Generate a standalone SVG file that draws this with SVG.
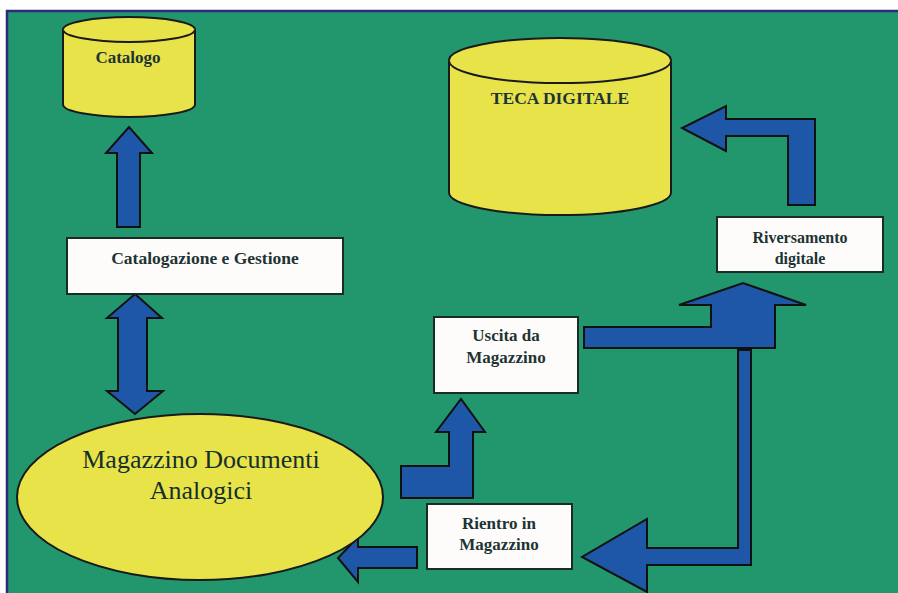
<svg xmlns="http://www.w3.org/2000/svg" width="898" height="593" viewBox="0 0 898 593">
<style>
.bg{fill:#22976e;}
.cyl{fill:#e9e34a;stroke:#1a1a1a;stroke-width:2;}
.box{fill:#fefcfa;stroke:#1c2a28;stroke-width:2;}
.arr{fill:#1f57a8;stroke:#111;stroke-width:2;stroke-linejoin:miter;}
.t{font-family:"Liberation Serif","Times New Roman","DejaVu Serif",serif;font-weight:bold;fill:#1d3434;text-anchor:middle;}
.tb{font-family:"Liberation Serif","Times New Roman","DejaVu Serif",serif;fill:#15302a;text-anchor:middle;}
</style>
<rect x="0" y="0" width="898" height="593" fill="#ffffff"/>
<rect class="bg" x="7" y="11" width="891" height="582"/>
<path d="M7,593 V11 H898" fill="none" stroke="#2c2b7c" stroke-width="2.5"/>

<g id="connectors">
  <polygon class="arr" points="117,227 117,153 106,153 129,127 152,153 140,153 140,227"/>
  <polygon class="arr" points="135,294 162,318 147,318 147,391 163,391 135,414 107,391 118,391 118,318 107,318"/>
  <polygon class="arr" points="815,205 788,205 788,136 726,136 726,151 682,128 726,106 726,119 815,119"/>
  <polygon class="arr" points="584,327 711,327 711,305 679,305 743,283 806,305 775,305 775,348 584,348"/>
  <polygon class="arr" points="738,350 751,350 751,565 647,565 647,592 582,557 647,519 647,548 738,548"/>
  <polygon class="arr" points="401,466 449,466 449,432 436,432 461,399 485,432 473,432 473,498 401,498"/>
  <polygon class="arr" points="417,547 417,568 358,568 358,582 338,558 358,537 358,547"/>
</g>

<g id="catalogo">
  <path class="cyl" d="M63,29.5 V104.5 A66,12.5 0 0 0 195,104.5 V29.5 A66,12.5 0 0 0 63,29.5 Z"/>
  <path class="cyl" d="M63,29.5 A66,12.5 0 0 0 195,29.5" fill="none"/>
  <text class="t" x="128" y="63" font-size="17">Catalogo</text>
</g>

<g id="teca">
  <path class="cyl" d="M449,60.5 V192.5 A111,22.5 0 0 0 671,192.5 V60.5 A111,22.5 0 0 0 449,60.5 Z"/>
  <path class="cyl" d="M449,60.5 A111,22.5 0 0 0 671,60.5" fill="none"/>
  <text class="t" x="560" y="104" font-size="17.5">TECA DIGITALE</text>
</g>

<g id="catalogazione">
  <rect class="box" x="67" y="238" width="276" height="56"/>
  <text class="t" x="205" y="264" font-size="17.5">Catalogazione e Gestione</text>
</g>

<g id="magazzino">
  <ellipse class="cyl" cx="200" cy="497" rx="183" ry="83"/>
  <text class="tb" x="201" y="468" font-size="26">Magazzino Documenti</text>
  <text class="tb" x="201" y="499" font-size="26">Analogici</text>
</g>

<g id="riversamento">
  <rect class="box" x="717" y="217" width="166" height="55"/>
  <text class="t" x="800" y="243" font-size="16">Riversamento</text>
  <text class="t" x="800" y="264" font-size="16">digitale</text>
</g>

<g id="uscita">
  <rect class="box" x="434" y="317" width="144" height="76"/>
  <text class="t" x="506" y="341" font-size="17">Uscita da</text>
  <text class="t" x="506" y="363" font-size="17">Magazzino</text>
</g>

<g id="rientro">
  <rect class="box" x="427" y="504" width="145" height="65"/>
  <text class="t" x="499" y="529" font-size="17">Rientro in</text>
  <text class="t" x="499" y="550" font-size="17">Magazzino</text>
</g>
</svg>
